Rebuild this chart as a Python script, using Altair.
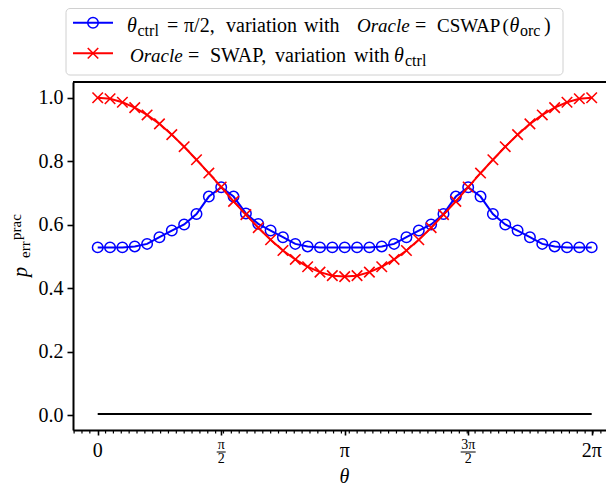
import altair as alt
import numpy as np
import pandas as pd

PI = np.pi
# ---------------- data ----------------
theta = list(np.linspace(0, 2 * PI, 41))
blue_vals = [0.529, 0.529, 0.529, 0.532, 0.540, 0.561, 0.582, 0.601, 0.634, 0.689,
             0.718, 0.689, 0.636, 0.603, 0.582, 0.561, 0.540, 0.532, 0.529, 0.529,
             0.529, 0.529, 0.529, 0.532, 0.540, 0.561, 0.582, 0.601, 0.634, 0.689,
             0.718, 0.689, 0.634, 0.601, 0.582, 0.561, 0.540, 0.532, 0.529, 0.529,
             0.529]
red_vals = [1.000, 0.997, 0.986, 0.969, 0.946, 0.918, 0.884, 0.846, 0.805, 0.763,
            0.719, 0.674, 0.632, 0.591, 0.553, 0.519, 0.491, 0.468, 0.451, 0.440,
            0.437, 0.440, 0.451, 0.468, 0.491, 0.519, 0.553, 0.591, 0.632, 0.674,
            0.719, 0.763, 0.805, 0.846, 0.884, 0.918, 0.946, 0.969, 0.986, 0.997,
            1.000]
base_x = [0.0, 2 * PI]
base_y = [0.004, 0.004]

major_x = [0.0, PI / 2, PI, 3 * PI / 2, 2 * PI]
plain_tick_vals = [0.0, PI, 2 * PI]
plain_tick_text = ["0", "π", "2π"]
frac_tick_vals = [PI / 2, 3 * PI / 2]
frac_tick_num = ["π", "3π"]
frac_tick_den = ["2", "2"]
minor_x = [round(k * 0.1, 1) for k in range(-3, 65) if k != 0]
y_ticks = [0.0, 0.2, 0.4, 0.6, 0.8, 1.0]

# ---------------- layout ----------------
W, H = 533, 348
FONT = "Liberation Serif"
BLUE = "#0000ff"
RED = "#ff0000"
XPPU = 78.62  # pixels per radian
xs = alt.Scale(domain=[-0.1 * PI, -0.1 * PI + W / XPPU], nice=False, zero=False)
ys = alt.Scale(domain=[-0.046, 1.0497], nice=False, zero=False)

X_AXIS = alt.Axis(values=major_x, labels=False, title=None, grid=False, tickSize=5,
                  tickWidth=1.6, tickColor="black", domainColor="black", domainWidth=2)
Y_AXIS = alt.Axis(values=y_ticks, format=".1f", title=None, grid=False, tickSize=6,
                  tickWidth=1.6, tickColor="black", domainColor="black", domainWidth=2,
                  labelFont=FONT, labelFontSize=20, labelColor="black", labelPadding=4)

XPATH = "M-1,-1L1,1M-1,1L1,-1"

df = pd.DataFrame({"theta": theta, "blue": blue_vals, "red": red_vals})
df_base = pd.DataFrame({"theta": base_x, "v": base_y})

X = alt.X("theta:Q", scale=xs, axis=X_AXIS)

base_line = alt.Chart(df_base).mark_line(color="black", strokeWidth=2).encode(
    x=X, y=alt.Y("v:Q", scale=ys, axis=Y_AXIS))
blue_line = alt.Chart(df).mark_line(color=BLUE, strokeWidth=2).encode(
    x=X, y=alt.Y("blue:Q", scale=ys, axis=Y_AXIS))
blue_pts = alt.Chart(df).mark_point(shape="circle", filled=False, color=BLUE,
                                    strokeWidth=1.5, size=110, opacity=1).encode(
    x=X, y=alt.Y("blue:Q", scale=ys, axis=Y_AXIS))
red_line = alt.Chart(df).mark_line(color=RED, strokeWidth=2).encode(
    x=X, y=alt.Y("red:Q", scale=ys, axis=Y_AXIS))
red_pts = alt.Chart(df).mark_point(shape=XPATH, filled=False, color=RED,
                                   strokeWidth=1.6, size=110, opacity=1).encode(
    x=X, y=alt.Y("red:Q", scale=ys, axis=Y_AXIS))

# minor ticks on x axis
minor = alt.Chart(pd.DataFrame({"theta": minor_x})).mark_rule(
    color="black", strokeWidth=1.2).encode(x=X, y=alt.value(H), y2=alt.value(H + 3.5))

# top spine
top_spine = alt.Chart(pd.DataFrame({"a": [0]})).mark_rule(
    color="black", strokeWidth=2).encode(x=alt.value(0), x2=alt.value(W), y=alt.value(0))

# x tick labels
plain_lab = alt.Chart(pd.DataFrame({"theta": plain_tick_vals, "t": plain_tick_text})).mark_text(
    font=FONT, fontSize=20, baseline="alphabetic", align="center", color="black").encode(
    x=X, y=alt.value(375), text="t:N")
df_frac = pd.DataFrame({"theta": frac_tick_vals, "n": frac_tick_num, "d": frac_tick_den})
frac_num = alt.Chart(df_frac).mark_text(
    font=FONT, fontSize=14, baseline="alphabetic", align="center", color="black").encode(
    x=X, y=alt.value(367), text="n:N")
frac_den = alt.Chart(df_frac).mark_text(
    font=FONT, fontSize=14, baseline="alphabetic", align="center", color="black").encode(
    x=X, y=alt.value(381), text="d:N")
bar1 = alt.Chart(df_frac.iloc[[0]]).mark_rule(color="black", strokeWidth=1, xOffset=-4.5,
                                              x2Offset=4.5).encode(
    x=X, x2="theta:Q", y=alt.value(370))
bar2 = alt.Chart(df_frac.iloc[[1]]).mark_rule(color="black", strokeWidth=1, xOffset=-7.5,
                                              x2Offset=7.5).encode(
    x=X, x2="theta:Q", y=alt.value(370))


def txt(s, x, y, size=20, italic=False, align="left", angle=0):
    kw = dict(font=FONT, fontSize=size, align=align, baseline="alphabetic", color="black")
    if italic:
        kw["fontStyle"] = "italic"
    if angle:
        kw["angle"] = angle
    return alt.Chart(pd.DataFrame({"t": [s]})).mark_text(**kw).encode(
        text="t:N", x=alt.value(x), y=alt.value(y))


# axis titles
x_title = txt("θ", 271.5, 401, italic=True, align="center")
y_title = [
    txt("p", -46, 195, italic=True, angle=270),
    txt("err", -43.5, 176, size=15, angle=270),
    txt("prac", -52.5, 158, size=15, angle=270),
]

# legend
leg_box = alt.Chart(pd.DataFrame({"a": [0]})).mark_rect(
    fill="white", stroke="#cccccc", strokeWidth=1, cornerRadius=4, opacity=0.9).encode(
    x=alt.value(-7), x2=alt.value(490), y=alt.value(-73.5), y2=alt.value(-7))
leg_sym = [
    alt.Chart(pd.DataFrame({"a": [0]})).mark_rule(color=BLUE, strokeWidth=2).encode(
        x=alt.value(0), x2=alt.value(40), y=alt.value(-59.3)),
    alt.Chart(pd.DataFrame({"a": [0]})).mark_point(shape="circle", filled=False, color=BLUE,
                                                   strokeWidth=1.5, size=110, opacity=1).encode(
        x=alt.value(20), y=alt.value(-59.3)),
    alt.Chart(pd.DataFrame({"a": [0]})).mark_rule(color=RED, strokeWidth=2).encode(
        x=alt.value(0), x2=alt.value(40), y=alt.value(-28.7)),
    alt.Chart(pd.DataFrame({"a": [0]})).mark_point(shape=XPATH, filled=False, color=RED,
                                                   strokeWidth=1.6, size=110, opacity=1).encode(
        x=alt.value(20), y=alt.value(-28.7)),
]
r1, s1 = -50.3, -46.0
r2, s2 = -20.3, -15.8
leg_txt = [
    txt("θ", 54, r1, italic=True),
    txt("ctrl", 64.5, s1, size=16),
    txt("=", 94, r1),
    txt("π/2,", 111, r1),
    txt("variation", 153, r1),
    txt("with", 231, r1),
    txt("Oracle", 284, r1, size=19, italic=True),
    txt("=", 342, r1),
    txt("CSWAP", 364, r1, size=19),
    txt("(", 429.5, r1, size=19),
    txt("θ", 436.5, r1, italic=True),
    txt("orc", 447, s1, size=16),
    txt(")", 471, r1),
    txt("Oracle", 57, r2, size=19, italic=True),
    txt("=", 115, r2),
    txt("SWAP,", 137, r2),
    txt("variation", 202, r2),
    txt("with", 281, r2),
    txt("θ", 321, r2, italic=True),
    txt("ctrl", 332, s2, size=16),
]

layers = [base_line, blue_line, blue_pts, red_line, red_pts, minor, top_spine,
          plain_lab, frac_num, frac_den, bar1, bar2, x_title] + y_title + \
         [leg_box] + leg_sym + leg_txt

chart = alt.layer(*layers).properties(
    width=W, height=H,
    autosize=alt.AutoSizeParams(type="none"),
    padding={"left": 65, "top": 74, "right": 0, "bottom": 57},
).configure_view(stroke=None).configure(background="white")

chart.save("out.html", embed_options={"renderer": "svg", "actions": False})
